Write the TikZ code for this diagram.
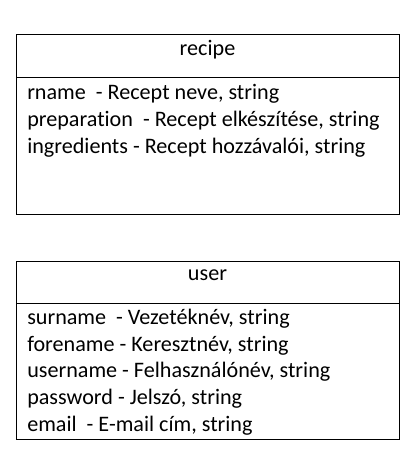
\documentclass[tikz,border=0pt]{standalone}
\usepackage{fontspec}
\setmainfont{Carlito}[Ligatures={NoCommon}]
\usetikzlibrary{positioning}
\tikzset{
	entity/.style={draw, line width=0.75pt, anchor=north west, inner sep=0pt, minimum width=287.25pt},
	etitle/.style={anchor=base, inner sep=0pt},
	attr/.style={anchor=base west, inner sep=0pt},
}
\begin{document}
\begin{tikzpicture}[x=0.75pt,y=-0.75pt,font=\fontsize{16.6}{19}\selectfont]
				\useasboundingbox (0,0) rectangle (417,465);
				% recipe table
				\node[entity, minimum height=135pt] (recipebox) at (16,34) {};
				\draw[line width=0.75pt] ([yshift=-32.25pt]recipebox.north west) coordinate (rsplitw) -- ([yshift=-32.25pt]recipebox.north east);
				\node[etitle] (recipe) at (207.5,55) {recipe};
				\node[attr] (rname) at (27,99) {rname\ \ - Recept neve, string};
				\node[attr] (prep) at (27,126) {preparation\ \ - Recept elkészítése, string};
				\node[attr] (ingr) at (27,153) {ingredients - Recept hozzávalói, string};
				% user table
				\node[entity, minimum height=133.5pt] (userbox) at (16,261) {};
				\draw[line width=0.75pt] ([yshift=-31.5pt]userbox.north west) coordinate (usplitw) -- ([yshift=-31.5pt]userbox.north east);
				\node[etitle] (user) at (207.5,280) {user};
				\node[attr] (surname) at (27,324) {surname\ \ - Vezetéknév, string};
				\node[attr] (forename) at (27,351) {forename - Keresztnév, string};
				\node[attr] (username) at (27,377) {username - Felhasználónév, string};
				\node[attr] (password) at (27,404) {password - Jelszó, string};
				\node[attr] (email) at (27,431) {email\ \ - E-mail cím, string};
\end{tikzpicture}
\end{document}
